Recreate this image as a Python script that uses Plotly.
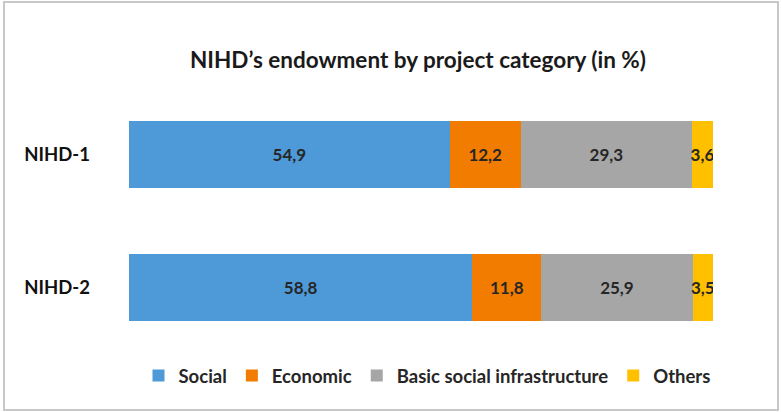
import plotly.graph_objects as go

# Endowment shares (%) by project category for each programme
programmes = ["NIHD-1", "NIHD-2"]
categories = ["Social", "Economic", "Basic social infrastructure", "Others"]
social = [54.9, 58.8]
economic = [12.2, 11.8]
basic_infra = [29.3, 25.9]
others = [3.6, 3.5]
labels_fmt = lambda v: f"{v:.1f}".replace(".", ",")

series = [social, economic, basic_infra, others]
colors = ["#4E9AD8", "#F27C00", "#A6A6A6", "#FFC000"]

W, H = 781, 412
ML, MR, MT, MB = 129, 68, 88, 58
PW, PH = W - ML - MR, H - MT - MB

fig = go.Figure()
for name, vals, col in zip(categories, series, colors):
    fig.add_trace(go.Bar(
        name=name,
        y=programmes,
        x=vals,
        orientation="h",
        marker=dict(color=col, line=dict(width=0)),
        text=[labels_fmt(v) for v in vals],
        textposition="inside",
        insidetextanchor="middle",
        textangle=0,
        textfont=dict(family="Lato", size=17, color="#262626", weight="bold"),
        constraintext="none",
        width=0.51,
    ))

def px_x(x):
    return (x - ML) / PW

def px_y(y):
    return (H - MB - y) / PH

fig.update_layout(
    width=W, height=H,
    margin=dict(l=ML, r=MR, t=MT, b=MB, autoexpand=False),
    barmode="stack",
    paper_bgcolor="white",
    plot_bgcolor="white",
    title=dict(
        text="<b>NIHD’s endowment by project category (in %)</b>",
        font=dict(family="Lato", size=22.5, color="#1a1a1a"),
        x=418 / W, xanchor="center",
        y=1 - 60 / H, yanchor="middle",
    ),
    xaxis=dict(range=[0, 100], visible=False, fixedrange=True),
    yaxis=dict(
        autorange="reversed",
        showgrid=False, zeroline=False, showline=False,
        ticks="", ticklabelstandoff=38,
        tickfont=dict(family="Lato", size=18.5, color="#111111", weight="bold"),
    ),
    legend=dict(
        orientation="h",
        x=px_x(427), xanchor="center",
        y=px_y(376), yanchor="middle",
        font=dict(family="Lato", size=18.5, color="#262626", weight="bold"),
        traceorder="normal",
        itemwidth=30,
    ),
    showlegend=True,
    uniformtext=dict(mode=False),
    shapes=[dict(
        type="rect", xref="paper", yref="paper",
        x0=px_x(4), x1=px_x(778), y0=px_y(410), y1=px_y(2),
        line=dict(color="#C8C8C8", width=2),
        fillcolor="rgba(0,0,0,0)",
        layer="below",
    )],
)

fig.write_html("out.html")
